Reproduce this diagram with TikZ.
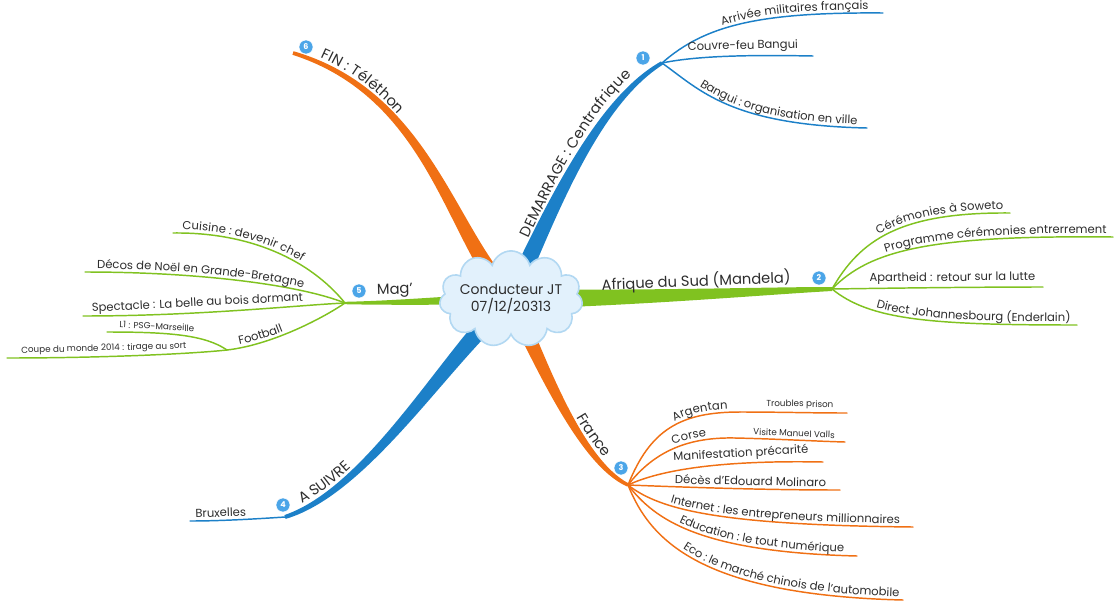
\documentclass[tikz,border=0pt]{standalone}
\usepackage{fontspec}
\setmainfont{Poppins}
\usetikzlibrary{calc, decorations.text, shapes.symbols}

\definecolor{mapblue}{RGB}{28,128,200}
\definecolor{mapgreen}{RGB}{128,194,32}
\definecolor{maporange}{RGB}{240,112,20}
\definecolor{badgeblue}{RGB}{75,165,232}
\definecolor{cloudfill}{RGB}{226,241,252}
\definecolor{cloudline}{RGB}{178,216,242}
\definecolor{ink}{RGB}{45,45,45}

\newcommand\twigfont{\fontsize{8.7}{10}\selectfont\color{ink}}
\newcommand\trunkfont{\fontsize{11}{12}\selectfont\color{ink}}
\newcommand\leaffont{\fontsize{6.6}{7.5}\selectfont\color{ink}}

% tapered main branch: colour, from, c1, c2, to, half width
\newcommand\trunk[6]{%
  \fill[#1] ($(#2)!#6!90:(#3)$) .. controls ($(#3)!0.7*#6!-90:(#2)$) and ($(#4)!0.4*#6!90:(#5)$) .. ($(#5)!0.2*#6!-90:(#4)$)
    -- ($(#5)!0.2*#6!90:(#4)$) .. controls ($(#4)!0.4*#6!-90:(#5)$) and ($(#3)!0.7*#6!90:(#2)$) .. ($(#2)!#6!-90:(#3)$) -- cycle;}

\begin{document}
\begin{tikzpicture}[x=0.75pt, y=-0.75pt,
    hub/.style={cloud, cloud puffs=11, aspect=1.9, draw=cloudline, line width=1.2pt,
                fill=cloudfill, inner sep=-3pt, align=center,
                font=\fontsize{10.5}{13}\selectfont, text=ink},
    badge/.style={circle, fill=badgeblue, draw=white, line width=0.4pt, inner sep=0pt,
                  minimum size=10.5pt, text=white, font=\fontsize{6}{6}\selectfont\bfseries},
    twig/.style={line width=1.1pt, line cap=round},
    tlabel/.style={above, sloped, inner sep=2pt, text=ink, font=\twigfont},
    llabel/.style={tlabel, font=\leaffont},
    mlabel/.style={above=3pt, sloped, inner sep=0pt, text=ink, font=\trunkfont},
    label on/.style 2 args={postaction={decorate, decoration={text along path,
                  text={#2}, raise=2.5pt, text align={#1}}}},
    trunk label/.style 2 args={decorate, decoration={text along path,
                  text={#2}, text align={#1}}}
]
  \useasboundingbox (0,0) rectangle (1120,600);

  % centre and joints
  \coordinate (o) at (511,299);
  \coordinate (j1) at (662,63);
  \coordinate (j2) at (832,289);
  \coordinate (j3) at (628,485);
  \coordinate (j4) at (285,517);
  \coordinate (j5) at (345,303);
  \coordinate (j6) at (293,53);

  % main branches
  \trunk{mapblue}{o}{555,200}{600,100}{j1}{7pt}
  \trunk{mapgreen}{o}{650,298}{760,291}{j2}{7.5pt}
  \trunk{maporange}{o}{540,360}{580,462}{j3}{6.5pt}
  \trunk{mapblue}{o}{450,350}{370,490}{j4}{7.5pt}
  \trunk{mapgreen}{o}{450,300}{400,303}{j5}{4.5pt}
  \trunk{maporange}{o}{450,235}{430,95}{j6}{7pt}

  \node[hub] (hub) at (o) {Conducteur JT\\07/12/20313};

  % main labels
  \path[trunk label={left indent=47pt}{|\trunkfont|DEMARRAGE : Centrafrique}, decoration={raise=6.5pt}]
    (o) .. controls (555,200) and (600,100) .. (j1);
  \path (o) .. controls (650,298) and (760,291) .. (j2)
    node[mlabel, pos=0.5] (t2) {Afrique du Sud (Mandela)};
  \path[trunk label={right, right indent=28pt}{|\trunkfont|France}, decoration={raise=5pt}]
    (o) .. controls (540,360) and (580,462) .. (j3);
  \path[trunk label={left indent=16pt}{|\trunkfont|A SUIVRE}, decoration={raise=4.5pt}]
    (j4) .. controls (370,490) and (450,350) .. (o);
  \path (j5) .. controls (400,303) and (450,300) .. (o)
    node[mlabel, pos=0.31] (t5) {Mag'};
  \path[trunk label={left indent=20pt}{|\trunkfont|FIN : Téléthon}, decoration={raise=4pt}]
    (j6) .. controls (430,95) and (450,235) .. (o);

  % badges
  \node[badge] (b1) at (643,58) {1};
  \node[badge] (b2) at (819,278) {2};
  \node[badge] (b3) at (621,468) {3};
  \node[badge] (b4) at (283,505) {4};
  \node[badge] (b5) at (359,291) {5};
  \node[badge] (b6) at (306,47) {6};

  % Centrafrique
  \coordinate (e11) at (883,13);
  \coordinate (e12) at (813,56);
  \coordinate (e13) at (867,128);
  \draw[twig, mapblue, label on={right, right indent=11pt}{|\twigfont|Arrivée militaires français}]
    (j1) .. controls (705,25) and (760,12) .. (e11);
  \draw[twig, mapblue] (j1) .. controls (700,55) and (760,55) .. (e12)
    node[tlabel, pos=0.57] (t12) {Couvre-feu Bangui};
  \draw[twig, mapblue, label on={right, right indent=7.5pt}{|\twigfont|Bangui : organisation en ville}]
    (j1) .. controls (700,90) and (730,125) .. (e13);

  % Afrique du Sud
  \coordinate (e21) at (1010,213);
  \coordinate (e22) at (1113,237);
  \coordinate (e23) at (1043,287);
  \coordinate (e24) at (1077,325);
  \draw[twig, mapgreen, label on={right, right indent=5pt}{|\twigfont|Cérémonies à Soweto}]
    (j2) .. controls (860,240) and (900,212) .. (e21);
  \draw[twig, mapgreen, label on={right, right indent=5pt}{|\twigfont|Programme cérémonies entrerrement}]
    (j2) .. controls (870,250) and (930,235) .. (e22);
  \draw[twig, mapgreen] (j2) .. controls (900,288) and (980,287) .. (e23)
    node[tlabel, pos=0.56] (t23) {Apartheid : retour sur la lutte};
  \draw[twig, mapgreen, label on={right, right indent=5pt}{|\twigfont|Direct Johannesbourg (Enderlain)}]
    (j2) .. controls (870,320) and (930,325) .. (e24);

  % France
  \coordinate (a1) at (740,412);
  \coordinate (a2) at (735,438);
  \coordinate (e31) at (847,413);
  \coordinate (e32) at (845,442);
  \coordinate (e33) at (823,462);
  \coordinate (e34) at (840,490);
  \coordinate (e35) at (913,527);
  \coordinate (e36) at (857,556);
  \coordinate (e37) at (903,600);
  \draw[twig, maporange, label on={right, right indent=9pt}{|\twigfont|Argentan}]
    (j3) .. controls (650,430) and (680,412) .. (a1);
  \draw[twig, maporange] (a1) .. controls (780,412) and (810,413) .. (e31)
    node[llabel, pos=0.55] (t31) {Troubles prison};
  \draw[twig, maporange, label on={right, right indent=21pt}{|\twigfont|Corse}]
    (j3) .. controls (655,450) and (690,437) .. (a2);
  \draw[twig, maporange] (a2) .. controls (780,439) and (810,441) .. (e32)
    node[llabel, pos=0.5] (t32) {Visite Manuel Valls};
  \draw[twig, maporange] (j3) .. controls (660,470) and (720,460) .. (e33)
    node[tlabel, pos=0.7] (t33) {Manifestation précarité};
  \draw[twig, maporange] (j3) .. controls (680,487) and (760,490) .. (e34)
    node[tlabel, pos=0.62] (t34) {Décès d'Edouard Molinaro};
  \draw[twig, maporange, label on={right, right indent=10pt}{|\twigfont|Internet : les entrepreneurs millionnaires}]
    (j3) .. controls (660,510) and (720,525) .. (e35);
  \draw[twig, maporange, label on={right, right indent=10pt}{|\twigfont|Education : le tout numérique}]
    (j3) .. controls (655,520) and (700,552) .. (e36);
  \draw[twig, maporange, label on={right, right indent=3pt}{|\twigfont|Eco : le marché chinois de l'automobile}]
    (j3) .. controls (650,540) and (700,595) .. (e37);

  % A SUIVRE
  \coordinate (e41) at (190,521);
  \draw[twig, mapblue] (e41) .. controls (220,521) and (255,519) .. (j4)
    node[tlabel, pos=0.33] (t41) {Bruxelles};

  % Mag'
  \coordinate (e51) at (173,233);
  \coordinate (e52) at (85,272);
  \coordinate (e53) at (83,316);
  \coordinate (fb) at (227,350);
  \coordinate (e54) at (107,332);
  \coordinate (e55) at (7,358);
  \draw[twig, mapgreen, label on={left indent=7pt}{|\twigfont|Cuisine : devenir chef}]
    (e51) .. controls (250,232) and (310,260) .. (j5);
  \draw[twig, mapgreen, label on={left indent=9pt}{|\twigfont|Décos de Noël en Grande-Bretagne}]
    (e52) .. controls (200,272) and (300,285) .. (j5);
  \draw[twig, mapgreen] (e53) .. controls (200,316) and (300,305) .. (j5)
    node[tlabel, pos=0.35] (t53) {Spectacle : La belle au bois dormant};
  \draw[twig, mapgreen, label on={left indent=10pt}{|\twigfont|Football}]
    (fb) .. controls (270,345) and (320,320) .. (j5);
  \draw[twig, mapgreen] (e54) .. controls (170,332) and (205,335) .. (fb)
    node[llabel, pos=0.3] (t54) {L1 : PSG-Marseille};
  \draw[twig, mapgreen] (e55) .. controls (100,358) and (190,354) .. (fb)
    node[llabel, pos=0.36] (t55) {Coupe du monde 2014 : tirage au sort};
\end{tikzpicture}
\end{document}
